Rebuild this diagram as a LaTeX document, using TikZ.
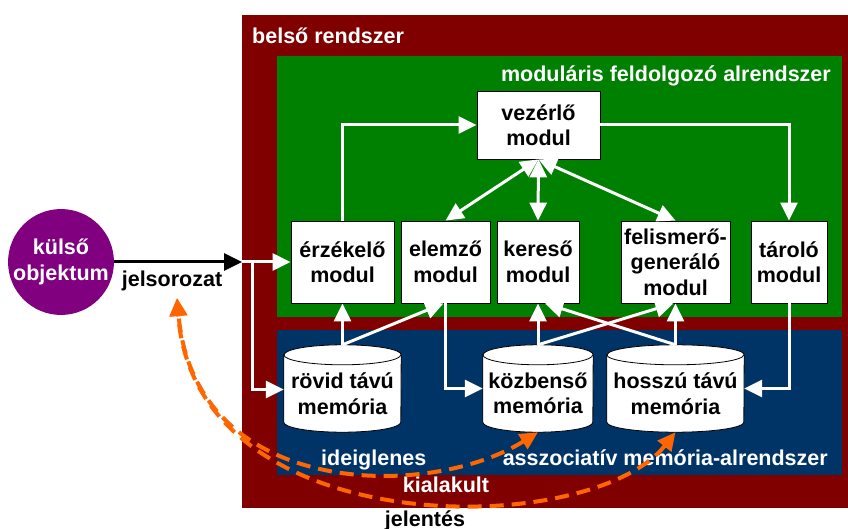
\documentclass[tikz,border=0pt]{standalone}
\usepackage{fontspec}
\setmainfont{Liberation Sans}
\usetikzlibrary{arrows.meta}
\pgfdeclarelayer{back}
\pgfdeclarelayer{middle}
\pgfsetlayers{back,middle,main}
\definecolor{sysred}{HTML}{800000}
\definecolor{modgreen}{HTML}{008000}
\definecolor{memblue}{HTML}{003366}
\definecolor{objpurple}{HTML}{800080}
\definecolor{meanorange}{HTML}{FF6600}

% cylinder outline behind a memory node: #1 node name, #2 half width
\newcommand\memcylinder[2]{%
  \begin{pgfonlayer}{middle}
    \draw[fill=white,draw=black,line width=0.8pt]
      (#1.north west) -- ([yshift=10pt]#1.south west)
      arc[start angle=180,end angle=360,x radius=#2,y radius=10pt]
      -- (#1.north east)
      arc[start angle=0,end angle=180,x radius=#2,y radius=10pt] -- cycle;
    \draw[line width=0.8pt] (#1.north west)
      arc[start angle=180,end angle=360,x radius=#2,y radius=10pt];
  \end{pgfonlayer}}

\tikzset{
  txt/.style={font=\bfseries\fontsize{21.5}{25.5}\selectfont},
  panel/.style={rectangle, anchor=north west, inner sep=0pt, draw=none},
  lbl/.style={txt, inner sep=0pt},
  modbox/.style={txt, draw=black, line width=0.8pt, fill=white, align=center,
    inner sep=0pt, minimum height=82pt},
  memslot/.style={txt, align=center, inner sep=0pt, minimum height=77pt},
  warrow/.style={draw=white, line width=3pt, ->},
  wdarrow/.style={draw=white, line width=3pt, <->},
  blackarrow/.style={draw=black, line width=3pt, ->},
  oarrow/.style={draw=meanorange, line width=4pt, dash pattern=on 14pt off 8pt, <->},
}

\begin{document}
\begin{tikzpicture}[x=1pt, y=-1pt, >={Triangle[length=18pt,width=17pt]}]
\useasboundingbox (0,0) rectangle (848,529);

% nested system panels
\begin{pgfonlayer}{back}
  \node[panel, fill=sysred, minimum width=606pt, minimum height=493pt] (belso) at (242,15) {};
  \node[panel, fill=modgreen, minimum width=565pt, minimum height=261pt] (modular) at (277,56) {};
  \node[panel, fill=memblue, minimum width=565pt, minimum height=145pt] (memsys) at (277,330) {};
\end{pgfonlayer}

\node[lbl, text=white, anchor=base west] (belso-title) at (252,44) {belső rendszer};
\node[lbl, text=white, anchor=base east] (modular-title) at (831,82) {moduláris feldolgozó alrendszer};
\node[lbl, text=white, anchor=base west] (memsys-temp) at (321,465) {ideiglenes};
\node[lbl, text=white, anchor=base east] (memsys-title) at (828,465) {asszociatív memória-alrendszer};
\node[lbl, text=white, anchor=base] (meaning-top) at (446,492) {kialakult};
\node[lbl, text=black, anchor=base] (meaning-bottom) at (425,526) {jelentés};
\node[lbl, text=black, anchor=base] (signal) at (172,287) {jelsorozat};

% external object
\node[circle, fill=objpurple, minimum size=100pt, inner sep=0pt, txt, text=white,
  align=center] (kulso) at (61,262) {külső\\objektum};

% processing modules
\node[modbox, minimum width=123pt, minimum height=68pt] (vez) at (538.5,125) {vezérlő\\modul};
\node[modbox, minimum width=103pt] (erz) at (342.5,262) {érzékelő\\modul};
\node[modbox, minimum width=89pt] (elem) at (445.5,262) {elemző\\modul};
\node[modbox, minimum width=82pt] (ker) at (538,262) {kereső\\modul};
\node[modbox, minimum width=109pt] (fel) at (675.5,262) {felismerő-\\generáló\\modul};
\node[modbox, minimum width=76pt] (tar) at (789,262) {tároló\\modul};

% memories
\node[memslot, minimum width=117pt] (rovid) at (342.5,393.5) {rövid távú\\memória};
\node[memslot, minimum width=110pt] (kozb) at (538,393.5) {közbenső\\memória};
\node[memslot, minimum width=137pt] (hossz) at (675.5,393.5) {hosszú távú\\memória};
\memcylinder{rovid}{58.5pt}
\memcylinder{kozb}{55pt}
\memcylinder{hossz}{68.5pt}

% incoming signal
\coordinate (inlet) at (belso.west |- erz.west);
\coordinate (split) at ([xshift=10pt]inlet);
\draw[blackarrow] (kulso) -- (inlet);
\draw[warrow] (inlet) -- (erz.west);
\draw[warrow] (split) |- ([yshift=4pt]rovid.west);

% control flow
\draw[warrow] (erz.north) |- (vez.west);
\draw[warrow] (vez.east) -| (tar.north);
\draw[wdarrow] (vez.south) -- (elem.north);
\draw[wdarrow] (vez.south) -- (ker.north);
\draw[wdarrow] (vez.south) -- (fel.north);

% memory to module links
\draw[warrow] ([yshift=10pt]rovid.north) -- (erz.south);
\draw[warrow] ([yshift=10pt]rovid.north) -- ([xshift=-2pt]elem.south);
\draw[warrow] (elem.south) |- ([yshift=5pt]kozb.west);
\draw[warrow] ([yshift=10pt]kozb.north) -- (ker.south);
\draw[warrow] ([yshift=10pt]kozb.north) -- ([xshift=-2pt]fel.south);
\draw[warrow] ([yshift=10pt]hossz.north) -- (fel.south);
\draw[warrow] ([yshift=10pt]hossz.north) -- ([xshift=7pt]ker.south);
\draw[warrow] (tar.south) |- ([yshift=5pt]hossz.east);

% emerging meaning
\coordinate (meaning) at (177,298);
\draw[oarrow] (hossz.south) .. controls (590,540) and (195,545) .. (meaning);
\draw[oarrow] (kozb.south) .. controls (430,500) and (195,500) .. (meaning);
\end{tikzpicture}
\end{document}
